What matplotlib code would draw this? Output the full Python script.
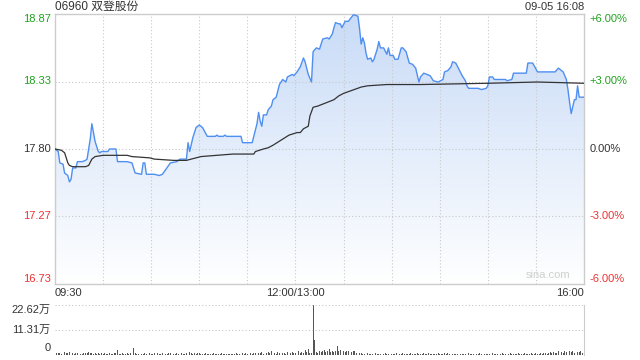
import numpy as np
import matplotlib.pyplot as plt
from matplotlib.colors import LinearSegmentedColormap

plt.rcParams['font.family'] = ['Liberation Sans', 'Noto Sans CJK SC', 'DejaVu Sans']

# Stock info
title = "06960 双登股份"
stamp = "09-05 16:08"
base_price = 17.80
pct_levels = [0.06, 0.03, 0.0, -0.03, -0.06]
time_labels = ["09:30", "12:00/13:00", "16:00"]
time_label_pos = [0, 150, 330]

# Price trace (minute since 09:30, trading minutes only, price)
price_trace = [
    (0, 17.80), (2, 17.78), (3, 17.69), (5, 17.68), (6, 17.61), (8, 17.59), (9, 17.54),
    (10, 17.56), (11, 17.65), (13, 17.65), (14, 17.70), (17, 17.70), (19, 17.71), (20, 17.72),
    (21, 17.80), (22, 17.88), (23, 18.00), (24, 17.93), (25, 17.86), (26, 17.82), (27, 17.78),
    (28, 17.77), (29, 17.78), (33, 17.78), (34, 17.80), (38, 17.80), (39, 17.70), (45, 17.70),
    (48, 17.69), (50, 17.61), (54, 17.60), (55, 17.69), (56, 17.69), (57, 17.60), (62, 17.60),
    (65, 17.59), (67, 17.60), (72, 17.69), (76, 17.70), (78, 17.72), (82, 17.72), (83, 17.85),
    (84, 17.78), (86, 17.89), (88, 17.97), (90, 17.99), (92, 17.97), (95, 17.90), (100, 17.90),
    (101, 17.91), (102, 17.90), (105, 17.90), (106, 17.91), (107, 17.90), (116, 17.90),
    (117, 17.85), (123, 17.85), (125, 17.95), (126, 18.00), (127, 18.09), (128, 18.02),
    (129, 17.98), (130, 18.07), (132, 18.07), (133, 18.11), (135, 18.14), (136, 18.19),
    (138, 18.21), (140, 18.31), (142, 18.35), (144, 18.33), (145, 18.37), (148, 18.39),
    (149, 18.38), (151, 18.41), (153, 18.45), (155, 18.52), (156, 18.49), (158, 18.39),
    (160, 18.33), (161, 18.57), (163, 18.60), (165, 18.59), (167, 18.67), (170, 18.68),
    (171, 18.67), (172, 18.69), (173, 18.71), (174, 18.76), (175, 18.80), (177, 18.79),
    (178, 18.79), (179, 18.76), (181, 18.81), (183, 18.81), (186, 18.86), (187, 18.86),
    (189, 18.85), (190, 18.75), (191, 18.63), (192, 18.68), (193, 18.64), (194, 18.56),
    (195, 18.51), (197, 18.52), (198, 18.49), (199, 18.51), (201, 18.59), (202, 18.65),
    (203, 18.60), (205, 18.60), (207, 18.55), (208, 18.60), (209, 18.54), (211, 18.54),
    (212, 18.51), (214, 18.51), (216, 18.60), (217, 18.60), (219, 18.57), (221, 18.48),
    (223, 18.47), (225, 18.44), (227, 18.33), (228, 18.37), (230, 18.40), (232, 18.39),
    (234, 18.38), (236, 18.34), (239, 18.33), (242, 18.35), (243, 18.41), (245, 18.42),
    (247, 18.45), (248, 18.49), (250, 18.48), (252, 18.43), (254, 18.38), (256, 18.34),
    (257, 18.30), (258, 18.28), (264, 18.28), (266, 18.27), (269, 18.28), (270, 18.30),
    (271, 18.37), (273, 18.37), (274, 18.35), (281, 18.35), (282, 18.34), (285, 18.35),
    (286, 18.40), (294, 18.40), (295, 18.48), (298, 18.48), (301, 18.41), (312, 18.41),
    (314, 18.44), (315, 18.43), (317, 18.41), (319, 18.35), (320, 18.27), (321, 18.17),
    (322, 18.08), (324, 18.19), (325, 18.19), (326, 18.30), (327, 18.21), (330, 18.21),
]

# Average price trace
avg_trace = [
    (0, 17.80), (4, 17.79), (6, 17.77), (8, 17.69), (9, 17.67), (11, 17.66), (19, 17.66),
    (21, 17.67), (23, 17.72), (25, 17.74), (30, 17.75), (45, 17.75), (48, 17.74), (59, 17.73),
    (62, 17.72), (74, 17.71), (82, 17.71), (91, 17.74), (101, 17.75), (111, 17.76),
    (124, 17.76), (125, 17.78), (130, 17.80), (133, 17.81), (136, 17.83), (141, 17.87),
    (146, 17.91), (151, 17.93), (153, 17.93), (155, 17.96), (158, 17.98), (159, 18.06),
    (161, 18.13), (164, 18.14), (170, 18.17), (174, 18.19), (177, 18.22), (180, 18.24),
    (191, 18.29), (195, 18.30), (207, 18.31), (228, 18.31), (270, 18.32), (301, 18.33),
    (330, 18.32),
]

# Volume per minute, in 万 shares
volume = [
    1.6, 0.9, 0.7, 1.1, 0.6, 0.8, 1.3, 0.7, 0.9, 1.2, 0.6, 0.8, 0.5, 0.9, 0.7, 1.0, 0.6, 0.5, 0.8, 0.7, 1.1, 1.5, 0.9, 0.7, 0.6, 0.8, 0.5, 0.7, 0.6, 0.9,
    0.5, 0.7, 0.6, 0.4, 0.8, 0.5, 0.6, 0.7, 0.9, 2.3, 0.6, 0.5, 0.8, 0.4, 0.6, 0.7, 0.5, 0.9, 0.6, 3.2, 0.7, 0.5, 0.6, 0.8, 0.4, 0.5, 0.7, 0.6, 0.5, 0.8,
    0.6, 0.4, 0.7, 0.5, 1.1, 0.6, 0.5, 0.8, 0.4, 0.6, 0.5, 0.7, 0.9, 0.5, 0.6, 0.4, 0.8, 0.5, 0.6, 0.7, 0.5, 0.4, 0.9, 0.6, 1.2, 0.7, 0.5, 0.8, 0.6, 1.0,
    0.7, 0.5, 0.6, 0.4, 0.8, 0.5, 0.6, 0.5, 0.4, 0.7, 0.5, 0.6, 0.4, 0.5, 0.7, 0.6, 0.4, 0.5, 0.6, 0.5, 0.4, 0.6, 0.5, 0.7, 0.4, 0.6, 0.5, 0.8, 0.6, 0.7,
    0.5, 0.9, 0.7, 0.6, 1.0, 0.8, 3.0, 1.1, 0.7, 1.3, 0.6, 1.5, 0.8, 1.2, 0.7, 1.6, 0.9, 1.1, 0.6, 1.4, 0.8, 1.7, 0.7, 1.0, 0.6, 1.5, 0.9, 0.7, 1.3, 0.8,
    1.1, 0.7, 1.9, 0.9, 1.4, 0.8, 2.2, 1.2, 2.7, 1.0, 0.8, 22.62, 6.8, 1.5, 1.1, 1.8, 1.3, 1.9, 2.2, 1.4, 1.7, 2.5, 1.2, 1.8, 1.5, 2.0, 4.0, 1.6, 2.1, 1.5,
    1.8, 1.2, 1.6, 1.9, 1.3, 1.5, 1.7, 2.0, 1.1, 1.4, 0.9, 0.7, 0.5, 0.6, 0.4, 0.7, 0.5, 0.6, 0.4, 0.5, 0.7, 0.6, 0.5, 0.4, 0.6, 0.5, 0.7, 0.4, 0.6, 0.5,
    0.4, 0.6, 0.5, 0.7, 0.4, 0.5, 0.6, 0.9, 0.5, 0.4, 0.6, 0.5, 0.7, 0.4, 0.5, 0.6, 0.8, 0.5, 0.4, 0.6, 0.7, 0.5, 0.4, 0.9, 0.6, 0.5, 0.4, 0.6, 0.5, 0.7,
    0.5, 0.4, 0.6, 0.8, 0.5, 0.7, 0.4, 0.6, 0.5, 0.4, 0.6, 0.5, 0.7, 0.4, 0.5, 0.6, 0.4, 0.5, 0.7, 0.6, 0.4, 0.5, 0.6, 0.4, 0.5, 0.7, 0.4, 0.6, 0.5, 0.4,
    0.6, 0.5, 0.4, 0.7, 0.5, 0.6, 0.4, 0.5, 0.6, 0.7, 0.4, 0.5, 0.6, 0.4, 0.8, 0.5, 0.6, 0.4, 0.5, 0.7, 0.4, 0.6, 0.5, 0.7, 0.4, 0.5, 0.6, 0.8, 0.5, 0.6,
    0.7, 0.5, 0.6, 0.9, 0.5, 0.7, 1.0, 0.6, 0.8, 1.2, 0.7, 1.4, 0.9, 1.1, 1.6, 0.8, 1.3, 1.0, 1.7, 1.2, 1.5, 1.9, 1.3, 1.6, 1.1, 1.8, 1.4, 1.2, 1.7, 1.0, 1.5,
]
vol_max = 22.62

GREEN = '#1fa31f'
RED = '#ee3333'
DARK = '#333333'
GRID = '#c8c8c8'
BORDER = '#cccccc'

pm, pv = zip(*price_trace)
am, av = zip(*avg_trace)

fig = plt.figure(figsize=(6.4, 3.6), dpi=100)
ax = fig.add_axes([55 / 640, 1 - 284 / 360, 529 / 640, 270 / 360])
axv = fig.add_axes([55 / 640, 1 - 355 / 360, 529 / 640, 50 / 360])

ylo, yhi = base_price * (1 - 0.06), base_price * (1 + 0.06)
ax.set_xlim(0, 330)
ax.set_ylim(ylo, yhi)

# gradient fill under the price line
cmap = LinearSegmentedColormap.from_list('fill', ['#ffffff', '#c8dbf7'])
grad = np.linspace(0, 1, 256).reshape(-1, 1)
poly = ax.fill_between(pm, pv, ylo, color='none', lw=0)
img = ax.imshow(grad, cmap=cmap, aspect='auto', origin='lower',
                extent=[0, 330, ylo, yhi], zorder=1)
img.set_clip_path(poly.get_paths()[0], transform=ax.transData)

# grid
for m in range(30, 330, 30):
    ax.axvline(m, color=GRID, lw=0.8, ls=(0, (1, 2)), zorder=2)
for p in pct_levels[1:-1]:
    ax.axhline(base_price * (1 + p), color=GRID, lw=0.8, ls=(0, (1, 2)), zorder=2)

ax.plot(pm, pv, color='#4f8ff2', lw=1.0, zorder=4)
ax.plot(am, av, color=DARK, lw=0.9, zorder=5)

ax.set_xticks([])
ax.set_yticks([])
for s in ax.spines.values():
    s.set_color(BORDER)
    s.set_linewidth(1)

# price labels (left) and percent labels (right)
for i, p in enumerate(pct_levels):
    val = base_price * (1 + p)
    col = GREEN if p > 0 else (RED if p < 0 else DARK)
    va = 'top' if i == 0 else ('bottom' if i == len(pct_levels) - 1 else 'center')
    pct_txt = f"{p * 100:+.2f}%" if p != 0 else "0.00%"
    ax.text(-0.008, val, f"{val:.2f}", transform=ax.get_yaxis_transform(),
            ha='right', va=va, color=col, fontsize=8)
    ax.text(1.01, val, pct_txt, transform=ax.get_yaxis_transform(),
            ha='left', va=va, color=col, fontsize=8)

# time labels
for lab, m in zip(time_labels, time_label_pos):
    ha = 'left' if m == 0 else ('right' if m == 330 else 'center')
    ax.text(m, -0.015, lab, transform=ax.get_xaxis_transform(),
            ha=ha, va='top', color=DARK, fontsize=8)

ax.text(0, 1.027, title, transform=ax.transAxes, ha='left', va='center',
        color=DARK, fontsize=8.5)
ax.text(1, 1.027, stamp, transform=ax.transAxes, ha='right', va='center',
        color=DARK, fontsize=8)
ax.text(0.975, 0.015, "sina.com", transform=ax.transAxes, ha='right', va='bottom',
        color='#cfcfcf', fontsize=8)

# volume panel
axv.set_xlim(0, 330)
axv.set_ylim(0, vol_max)
axv.bar(np.arange(len(volume)), volume, width=0.55, color='#555555', lw=0)
axv.axhline(vol_max, color=GRID, lw=0.8, ls=(0, (1, 2)))
axv.axhline(vol_max / 2, color=GRID, lw=0.8, ls=(0, (1, 2)))
axv.set_xticks([])
axv.set_yticks([])
for k in ['left', 'top', 'bottom']:
    axv.spines[k].set_visible(False)
axv.spines['right'].set_color(BORDER)
axv.text(-0.008, vol_max, f"{vol_max:.2f}万", transform=axv.get_yaxis_transform(),
         ha='right', va='top', color=DARK, fontsize=8)
axv.text(-0.008, vol_max / 2, f"{vol_max / 2:.2f}万", transform=axv.get_yaxis_transform(),
         ha='right', va='center', color=DARK, fontsize=8)
axv.text(-0.008, 0.14, "0", transform=axv.transAxes,
         ha='right', va='center', color=DARK, fontsize=8)

fig.savefig('out.png', dpi=100)
